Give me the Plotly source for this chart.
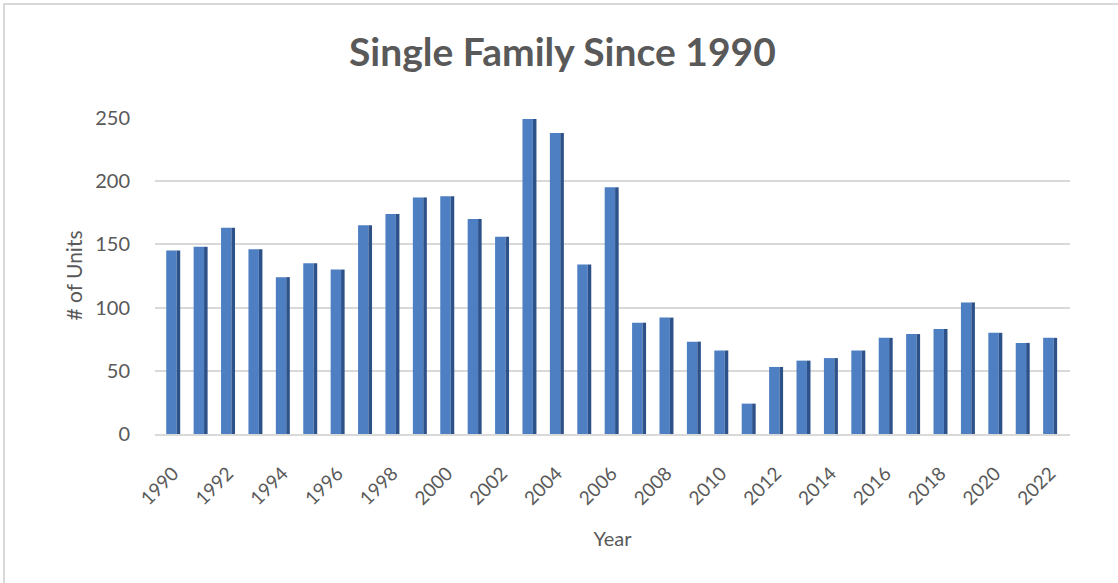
import plotly.graph_objects as go

# Single-family units permitted per year
years = list(range(1990, 2023))
units = [145, 148, 163, 146, 124, 135, 130, 165, 174, 187, 188, 170, 156,
         249, 238, 134, 195, 88, 92, 73, 66, 24, 53, 58, 60, 66, 76, 79, 83,
         104, 80, 72, 76]
year_ticks = list(range(1990, 2023, 2))
unit_ticks = [0, 50, 100, 150, 200, 250]

TEXT = "#595959"
GRID = "#d9d9d9"
FONT = "Lato, 'Open Sans', sans-serif"

fig = go.Figure()

# front face of each column
fig.add_trace(go.Bar(
    x=years, y=units, width=0.38, offset=-0.25,
    marker=dict(color="#4d7fc2", line=dict(width=0)),
    hoverinfo="x+y", showlegend=False,
))
# darker side face to give the columns depth
fig.add_trace(go.Bar(
    x=years, y=units, width=0.13, offset=0.13,
    marker=dict(color="#2d5189", line=dict(width=0)),
    hoverinfo="skip", showlegend=False,
))

fig.update_layout(
    width=1118, height=583,
    margin=dict(l=155, r=48, t=117, b=149),
    paper_bgcolor="white", plot_bgcolor="white",
    barmode="overlay",
    font=dict(family=FONT, color=TEXT, size=18),
    title=dict(
        text="<b>Single Family Since 1990</b>",
        x=0.503, xanchor="center", y=0.91, yanchor="middle",
        font=dict(family=FONT, size=39, color=TEXT),
    ),
    xaxis=dict(
        range=[1989.34, 2022.73],
        tickmode="array", tickvals=year_ticks,
        ticktext=[str(y) for y in year_ticks],
        tickangle=-45, tickfont=dict(size=19, color=TEXT),
        ticks="outside", ticklen=19, tickcolor="rgba(0,0,0,0)",
        showgrid=False, zeroline=False,
        showline=True, linecolor=GRID, linewidth=2,
        title=dict(text="Year", font=dict(size=20, color=TEXT), standoff=24),
    ),
    yaxis=dict(
        range=[0, 250.6],
        tickmode="array", tickvals=unit_ticks,
        tickfont=dict(size=20, color=TEXT),
        ticks="outside", ticklen=20, tickcolor="rgba(0,0,0,0)",
        showgrid=True, gridcolor=GRID, gridwidth=2,
        zeroline=False, showline=False,
        title=dict(text="# of Units", font=dict(size=21, color=TEXT), standoff=6),
    ),
    shapes=[dict(
        type="rect", xref="paper", yref="paper",
        x0=-151 / 915, x1=1.2, y0=-0.6, y1=1 + 113 / 317,
        line=dict(color=GRID, width=2), fillcolor="rgba(0,0,0,0)", layer="below",
    )],
)

fig.write_html("out.html")
